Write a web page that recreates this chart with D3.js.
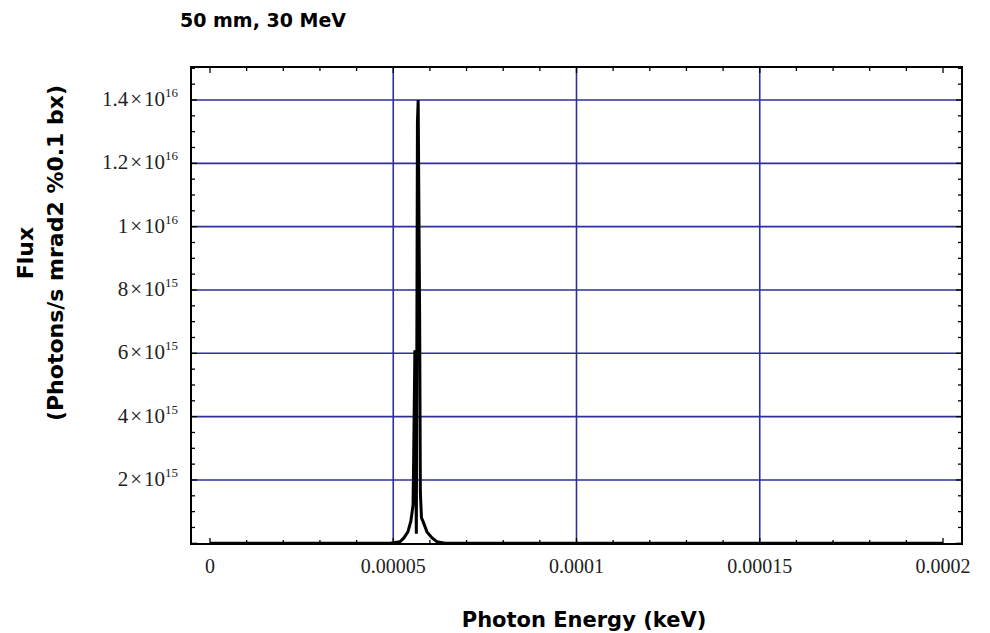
<!DOCTYPE html>
<html>
<head>
<meta charset="utf-8">
<script src="https://cdn.jsdelivr.net/npm/d3@7"></script>
<style>
  body { margin: 0; background: #fff; }
  svg { display: block; }
</style>
</head>
<body>
<div id="chart"></div>
<script>
// photon energy (keV) and flux
var energyKeV = [0, 0.0000491, 0.0000518, 0.0000529, 0.0000540, 0.0000548, 0.0000554,
   0.0000556, 0.0000559, 0.0000563, 0.0000566, 0.0000568, 0.0000572, 0.0000574,
   0.0000577, 0.0000581, 0.0000592, 0.0000606, 0.0000619, 0.0000641, 0.0002];
var flux = [0, 0, 0.05e15, 0.17e15, 0.36e15, 0.7e15, 1.2e15,
   3.0e15, 6.1e15, 0.3e15, 13.3e15, 14.0e15, 7.2e15, 1.6e15,
   0.8e15, 0.7e15, 0.36e15, 0.17e15, 0.05e15, 0, 0];

var xTicks = [0, 0.00005, 0.0001, 0.00015, 0.0002];
var xTickLabels = ['0', '0.00005', '0.0001', '0.00015', '0.0002'];
var xGrid = [0.00005, 0.0001, 0.00015];
var yTicks = [2e15, 4e15, 6e15, 8e15, 1e16, 1.2e16, 1.4e16];
var yMantissa = ['2', '4', '6', '8', '1', '1.2', '1.4'];
var yExponent = ['15', '15', '15', '15', '16', '16', '16'];

var title = '50 mm, 30 MeV';
var xTitle = 'Photon Energy (keV)';
var yTitle1 = 'Flux';
var yTitle2 = '(Photons/s mrad2 %0.1 bx)';

var width = 990, height = 633;
var frame = {left: 191, right: 962, top: 67, bottom: 544};
var gridColor = '#2e2e9c';

var svg = d3.select('#chart').append('svg')
   .attr('width', width)
   .attr('height', height);

var x = d3.scaleLinear().domain([0, 0.0002]).range([210, 943]);
var y = d3.scaleLinear().domain([0, 1.4e16]).range([543.3, 100]);

//minor tick values
var xMinor = d3.range(0, 21).map(function (i) { return i * 1e-5; });
var yMinor = d3.range(0, 31).map(function (i) { return i * 5e14; })
   .filter(function (v) { return y(v) >= frame.top && y(v) <= frame.bottom; });

svg.append('clipPath').attr('id', 'plotClip')
   .append('rect')
   .attr('x', frame.left).attr('y', frame.top)
   .attr('width', frame.right - frame.left)
   .attr('height', frame.bottom - frame.top + 2);

//grid
var grid = svg.append('g').attr('stroke', gridColor).attr('stroke-width', 1.6);
grid.selectAll('.gx').data(xGrid).enter().append('line')
   .attr('x1', function (d) { return x(d); }).attr('x2', function (d) { return x(d); })
   .attr('y1', frame.top).attr('y2', frame.bottom);
grid.selectAll('.gy').data(yTicks).enter().append('line')
   .attr('y1', function (d) { return y(d); }).attr('y2', function (d) { return y(d); })
   .attr('x1', frame.left).attr('x2', frame.right);

//ticks on all four sides
var ticks = svg.append('g').attr('stroke', '#000').attr('stroke-width', 1.3);
function isMajorX(v) { return Math.abs(v / 5e-5 - Math.round(v / 5e-5)) < 1e-6; }
function isMajorY(v) { return Math.abs(v / 2e15 - Math.round(v / 2e15)) < 1e-6; }
xMinor.forEach(function (v) {
   var len = isMajorX(v) ? 6 : 4;
   ticks.append('line').attr('x1', x(v)).attr('x2', x(v))
      .attr('y1', frame.bottom).attr('y2', frame.bottom - len);
   ticks.append('line').attr('x1', x(v)).attr('x2', x(v))
      .attr('y1', frame.top).attr('y2', frame.top + len);
});
yMinor.forEach(function (v) {
   var len = isMajorY(v) ? 6 : 4;
   ticks.append('line').attr('y1', y(v)).attr('y2', y(v))
      .attr('x1', frame.left).attr('x2', frame.left + len);
   ticks.append('line').attr('y1', y(v)).attr('y2', y(v))
      .attr('x1', frame.right).attr('x2', frame.right - len);
});

//spectrum line
var line = d3.line()
   .x(function (d) { return x(d[0]); })
   .y(function (d) { return y(d[1]); });
svg.append('path')
   .datum(d3.zip(energyKeV, flux))
   .attr('clip-path', 'url(#plotClip)')
   .attr('d', line)
   .attr('fill', 'none')
   .attr('stroke', '#000')
   .attr('stroke-width', 3)
   .attr('stroke-linejoin', 'miter')
   .attr('stroke-miterlimit', 2);

//frame
svg.append('rect')
   .attr('x', frame.left).attr('y', frame.top)
   .attr('width', frame.right - frame.left)
   .attr('height', frame.bottom - frame.top)
   .attr('fill', 'none').attr('stroke', '#000').attr('stroke-width', 2);

//x tick labels
svg.append('g').selectAll('text').data(xTicks).enter().append('text')
   .attr('x', function (d) { return x(d); })
   .attr('y', 573)
   .attr('text-anchor', 'middle')
   .attr('font-family', 'Liberation Serif, serif')
   .attr('font-size', '20px')
   .attr('fill', '#222')
   .text(function (d, i) { return xTickLabels[i]; });

//y tick labels, a x 10^b
var yl = svg.append('g').selectAll('text').data(yTicks).enter().append('text')
   .attr('x', 178)
   .attr('y', function (d) { return y(d) + 6; })
   .attr('text-anchor', 'end')
   .attr('font-family', 'Liberation Serif, serif')
   .attr('font-size', '21px')
   .attr('fill', '#222');
yl.append('tspan').text(function (d, i) { return yMantissa[i]; });
yl.append('tspan').attr('dx', 2).text('\u00d7');
yl.append('tspan').attr('dx', 2).text('10');
yl.append('tspan').attr('dy', -9).attr('font-size', '13px')
   .text(function (d, i) { return yExponent[i]; });

//titles
svg.append('text')
   .attr('x', 180).attr('y', 27)
   .attr('font-family', 'DejaVu Sans, sans-serif')
   .attr('font-weight', 'bold')
   .attr('font-size', '19px')
   .text(title);

svg.append('text')
   .attr('x', 584).attr('y', 627)
   .attr('text-anchor', 'middle')
   .attr('font-family', 'DejaVu Sans, sans-serif')
   .attr('font-weight', 'bold')
   .attr('font-size', '21px')
   .text(xTitle);

svg.append('text')
   .attr('transform', 'translate(33,253) rotate(-90)')
   .attr('text-anchor', 'middle')
   .attr('font-family', 'DejaVu Sans, sans-serif')
   .attr('font-weight', 'bold')
   .attr('font-size', '22px')
   .text(yTitle1);

svg.append('text')
   .attr('transform', 'translate(63,253) rotate(-90)')
   .attr('text-anchor', 'middle')
   .attr('font-family', 'DejaVu Sans, sans-serif')
   .attr('font-weight', 'bold')
   .attr('font-size', '22px')
   .text(yTitle2);
</script>
</body>
</html>
